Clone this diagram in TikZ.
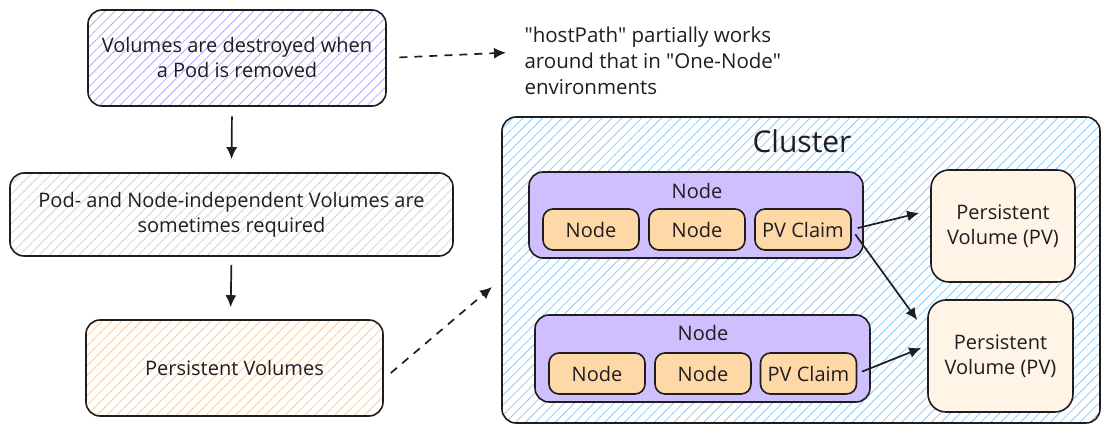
\documentclass[tikz,border=0pt]{standalone}
\usepackage{fontspec}
\setmainfont{Open Sans}
\newfontfamily\notefont{Open Sans}
\usetikzlibrary{patterns.meta,arrows.meta}
\definecolor{inkc}{HTML}{1E1E1E}
\definecolor{hatchpurple}{HTML}{B9A6FF}
\definecolor{hatchgray}{HTML}{D0D4D8}
\definecolor{hatchorange}{HTML}{FFCB8E}
\definecolor{hatchblue}{HTML}{8CCBF7}
\definecolor{nodefill}{HTML}{D0BFFF}
\definecolor{podfill}{HTML}{FFD8A8}
\definecolor{pvfill}{HTML}{FFF4E6}
\begin{document}
\begin{tikzpicture}[x=1pt,y=-1pt,>={Latex[length=12pt,width=11pt]},line join=round,
  every node/.style={text=inkc,font=\fontsize{20}{25}\selectfont},
  box/.style={draw=inkc,line width=1.6pt,rounded corners=14pt,align=center,inner sep=0pt},
  hatch/.style={box,pattern={Lines[angle=45,distance=7pt,line width=0.8pt]},pattern color=#1},
  solidbox/.style={box,fill=#1,rounded corners=10pt},
  arr/.style={->,draw=inkc,line width=1.7pt},
  dasharr/.style={arr,dash pattern=on 8pt off 7pt},
]
\useasboundingbox (0,0) rectangle (1111,433);
%%
\node (node_0) at (237,58) [hatch=hatchpurple,minimum width=298,minimum height=96] {Volumes are destroyed when\\a Pod is removed};
  \node (node_1) at (231.5,214.5) [hatch=hatchgray,minimum width=443,minimum height=83] {Pod- and Node-independent Volumes are\\sometimes required};
  \node (node_2) at (234.5,368) [hatch=hatchorange,minimum width=297,minimum height=96] {Persistent Volumes};
  \node (node_note) at (521,61) [anchor=west,align=left,font=\notefont\fontsize{20.5}{26}\selectfont] {"hostPath" partially works\\around that in "One-Node"\\environments};
  \coordinate (pt_cluster) at (492,287);
%
\node (cluster) at (801,270) [hatch=hatchblue,minimum width=598,minimum height=306] {};
  \node (cluster_label) at (802,141) [font=\fontsize{30}{34}\selectfont] {Cluster};
  \node (node_a) at (696,215) [solidbox=nodefill,rounded corners=14pt,minimum width=334,minimum height=86] {};
  \node (node_b) at (702.5,358.5) [solidbox=nodefill,rounded corners=14pt,minimum width=335,minimum height=87] {};
  \node (node_a_label) at (697,191) {Node};
  \node (node_b_label) at (703,333) {Node};
  \node (node_a1) at (591,229.5) [solidbox=podfill,minimum width=96,minimum height=41] {Node};
  \node (node_a2) at (697,229.5) [solidbox=podfill,minimum width=96,minimum height=41] {Node};
  \node (node_a3) at (803,229.5) [solidbox=podfill,minimum width=96,minimum height=41] {PV Claim};
  \node (node_b1) at (597,373.5) [solidbox=podfill,minimum width=96,minimum height=41] {Node};
  \node (node_b2) at (703,373.5) [solidbox=podfill,minimum width=96,minimum height=41] {Node};
  \node (node_b3) at (808.5,373.5) [solidbox=podfill,minimum width=96,minimum height=41] {PV Claim};
  \node (node_pv1) at (1003,226) [solidbox=pvfill,rounded corners=18pt,minimum width=144,minimum height=112] {Persistent\\Volume (PV)};
  \node (node_pv2) at (1000.5,356) [solidbox=pvfill,rounded corners=18pt,minimum width=145,minimum height=112] {Persistent\\Volume (PV)};
%
\draw [arr,shorten <=10pt,shorten >=13pt] ([xshift=-5pt]node_0.south) -- (node_1.north);
  \draw [arr,shorten <=8pt,shorten >=12pt] (node_1.south) -- ([xshift=-4pt]node_2.north);
  \draw [dasharr,shorten <=13pt,shorten >=15pt] (node_0.east) -- ([yshift=9pt]node_note.west);
  \draw [dasharr] ([shift={(7,5)}]node_2.east) -- (pt_cluster);
  \draw [arr,shorten <=6pt] (node_a3.east) -- ([shift={(-11,-13)}]node_pv1.west);
  \draw [arr,shorten <=6pt] (node_a3.east) -- ([shift={(-10,-36)}]node_pv2.west);
  \draw [arr,shorten <=5pt] (node_b3.east) -- ([shift={(-6,-8)}]node_pv2.west);
%
\end{tikzpicture}
\end{document}
